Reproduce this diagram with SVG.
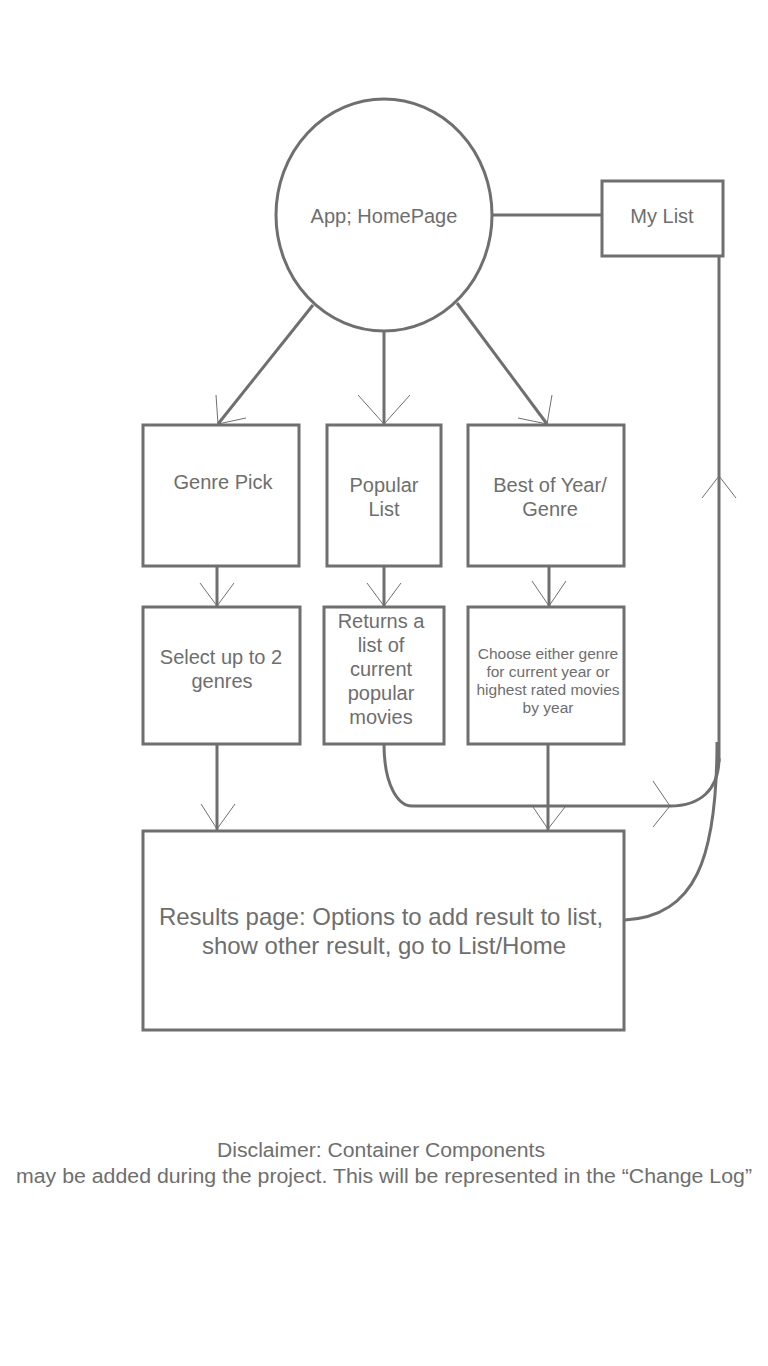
<svg xmlns="http://www.w3.org/2000/svg" width="768" height="1366" viewBox="0 0 768 1366">
<style>
.box{fill:#ffffff;stroke:#6f6f6f;stroke-width:3}
.ln{fill:none;stroke:#6f6f6f;stroke-width:3}
.ah{fill:none;stroke:#6f6f6f;stroke-width:1}
text{font-family:"Liberation Sans",Arial,Helvetica,sans-serif;fill:#6e6e6e;text-anchor:middle}
.t20{font-size:20px}
.t15{font-size:15.5px}
.t24{font-size:24px}
</style>
<rect width="768" height="1366" fill="#ffffff"/>
<g id="connectors">
<line class="ln" x1="492" y1="215" x2="602" y2="215"/>
<line class="ln" x1="313" y1="305" x2="218" y2="424"/>
<path class="ah" d="M216,395 L218,424 L246,418"/>
<line class="ln" x1="384" y1="331" x2="384" y2="424"/>
<path class="ah" d="M358,395 L384,424 L410,395"/>
<line class="ln" x1="457" y1="303" x2="547" y2="424"/>
<path class="ah" d="M518,418 L547,424 L552,395"/>
<line class="ln" x1="217" y1="566" x2="217" y2="606"/>
<path class="ah" d="M200,583 L217,606 L234,583"/>
<line class="ln" x1="384" y1="566" x2="384" y2="606"/>
<path class="ah" d="M367,583 L384,606 L401,583"/>
<line class="ln" x1="549" y1="566" x2="549" y2="606"/>
<path class="ah" d="M532,581 L549,606 L566,581"/>
<line class="ln" x1="217" y1="744" x2="217" y2="830"/>
<path class="ah" d="M201,804 L217,829 L235,804"/>
<line class="ln" x1="548" y1="744" x2="548" y2="830"/>
<path class="ah" d="M533,807 L548,829 L565,807"/>
<path class="ln" d="M384,744 C384,785 398,806 412,806 L670,806 C700,806 719,790 719,758"/>
<path class="ah" d="M653,781 L670,806 L653,827"/>
<line class="ln" x1="719" y1="256" x2="719" y2="762"/>
<path class="ah" d="M702,498 L719,476 L736,498"/>
<path class="ln" d="M625,920 C695,916 717,860 717,742"/>
</g>
<g id="app-homepage">
<ellipse class="box" cx="384" cy="215" rx="108" ry="116"/>
<text class="t20" x="384" y="223">App; HomePage</text>
</g>
<g id="my-list">
<rect class="box" x="602" y="181" width="121" height="75"/>
<text class="t20" x="662" y="223">My List</text>
</g>
<g id="genre-pick">
<rect class="box" x="143" y="425" width="156" height="141"/>
<text class="t20" x="223" y="489">Genre Pick</text>
</g>
<g id="popular-list">
<rect class="box" x="327" y="425" width="114" height="141"/>
<text class="t20" x="384" y="492">Popular</text>
<text class="t20" x="384" y="516">List</text>
</g>
<g id="best-of-year">
<rect class="box" x="468" y="425" width="156" height="141"/>
<text class="t20" x="550" y="492">Best of Year/</text>
<text class="t20" x="550" y="516">Genre</text>
</g>
<g id="select-genres">
<rect class="box" x="143" y="607" width="157" height="137"/>
<text class="t20" x="221" y="664">Select up to 2</text>
<text class="t20" x="222" y="688">genres</text>
</g>
<g id="returns-list">
<rect class="box" x="324" y="607" width="120" height="137"/>
<text class="t20" x="381" y="628">Returns a</text>
<text class="t20" x="381" y="652">list of</text>
<text class="t20" x="381" y="676">current</text>
<text class="t20" x="381" y="700">popular</text>
<text class="t20" x="381" y="724">movies</text>
</g>
<g id="choose-genre">
<rect class="box" x="468" y="607" width="156" height="137"/>
<text class="t15" x="548" y="659">Choose either genre</text>
<text class="t15" x="548" y="677">for current year or</text>
<text class="t15" x="548" y="695">highest rated movies</text>
<text class="t15" x="548" y="713">by year</text>
</g>
<g id="results-page">
<rect class="box" x="143" y="831" width="481" height="199"/>
<text class="t24" x="381" y="925">Results page: Options to add result to list,</text>
<text class="t24" x="384" y="954">show other result, go to List/Home</text>
</g>
<g id="disclaimer">
<text class="t20" x="381" y="1157" textLength="328" lengthAdjust="spacingAndGlyphs">Disclaimer: Container Components</text>
<text class="t20" x="384" y="1183" textLength="736" lengthAdjust="spacingAndGlyphs">may be added during the project. This will be represented in the “Change Log”</text>
</g>
</svg>
